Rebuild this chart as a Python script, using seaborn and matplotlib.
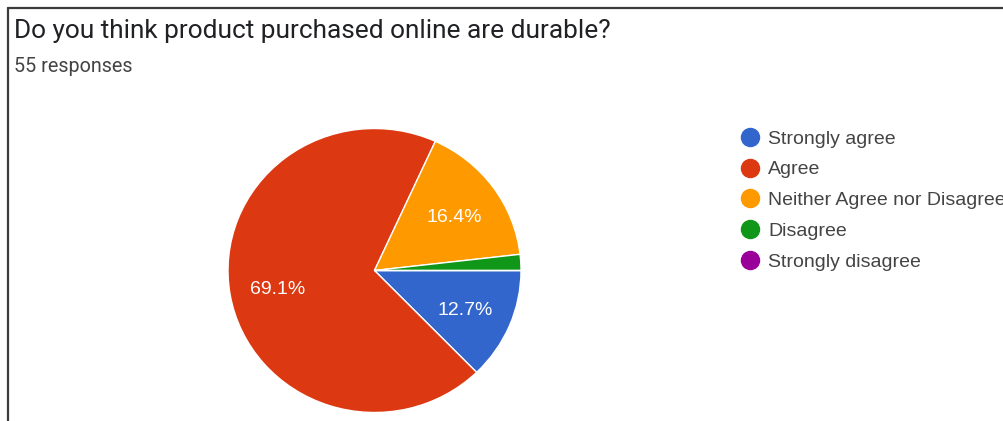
import matplotlib
matplotlib.use("Agg")
import matplotlib.pyplot as plt
import matplotlib.transforms as mtransforms
from matplotlib.lines import Line2D
import seaborn as sns

# Survey responses (n = 55)
categories = ["Strongly agree", "Agree", "Neither Agree nor Disagree", "Disagree", "Strongly disagree"]
counts = [7, 38, 9, 1, 0]
palette = ["#3366CC", "#DC3912", "#FF9900", "#109618", "#990099"]

title = "Do you think product purchased online are durable?"
subtitle = "55 responses"

sns.set_theme(style="white")
plt.rcParams["font.family"] = ["Liberation Sans", "DejaVu Sans"]

colors = sns.color_palette(palette)

fig = plt.figure(figsize=(10.04, 4.21), dpi=100)
W, H = 1004, 421

# Pie axes box (pixels): centre and half-extents
cx, cy, rx, ry = 374.5, 270.5, 146.5, 142
ax = fig.add_axes([(cx - rx) / W, (H - cy - ry) / H, 2 * rx / W, 2 * ry / H])


def pct_label(p):
    return f"{p:.1f}%" if p >= 5 else ""


wedges, texts, autotexts = ax.pie(
    counts,
    colors=colors,
    startangle=0,
    counterclock=False,
    autopct=pct_label,
    pctdistance=0.67,
    radius=1,
    wedgeprops=dict(edgecolor="white", linewidth=1.0),
    textprops=dict(color="white", fontsize=14),
)
ax.set_aspect("auto")
ax.set_xlim(-1.0, 1.0)
ax.set_ylim(-1.0, 1.0)
ax.axis("off")

# Nudge percentage labels slightly downward
shift = mtransforms.ScaledTranslation(0, -3 / 100, fig.dpi_scale_trans)
for t in autotexts:
    t.set_transform(t.get_transform() + shift)

# Legend with round markers
handles = [
    Line2D([0], [0], marker="o", linestyle="none", markersize=13,
           markerfacecolor=c, markeredgecolor=c)
    for c in colors
]
fig.legend(
    handles, categories,
    loc="upper left",
    bbox_to_anchor=(740 / W, 1 - 130 / H),
    frameon=False,
    fontsize=14,
    labelcolor="#444444",
    labelspacing=0.68,
    handlelength=1.0,
    handletextpad=0.45,
    borderpad=0,
    borderaxespad=0,
)

# Heading
fig.text(14 / W, 1 - 31 / H, title, fontsize=18.9, color="#202124",
         family=["Roboto", "DejaVu Sans"], va="center", ha="left")
fig.text(14 / W, 1 - 66 / H, subtitle, fontsize=14.2, color="#444444",
         family=["Roboto", "DejaVu Sans"], va="center", ha="left")

# Card frame (top and left edges)
fig.add_artist(Line2D([8 / W, 1], [1 - 8 / H, 1 - 8 / H], color="#3c3c3c",
                      linewidth=1.6, transform=fig.transFigure))
fig.add_artist(Line2D([8.5 / W, 8.5 / W], [0, 1 - 8 / H], color="#3c3c3c",
                      linewidth=1.6, transform=fig.transFigure))

fig.savefig("out.png", dpi=100, facecolor="white")
